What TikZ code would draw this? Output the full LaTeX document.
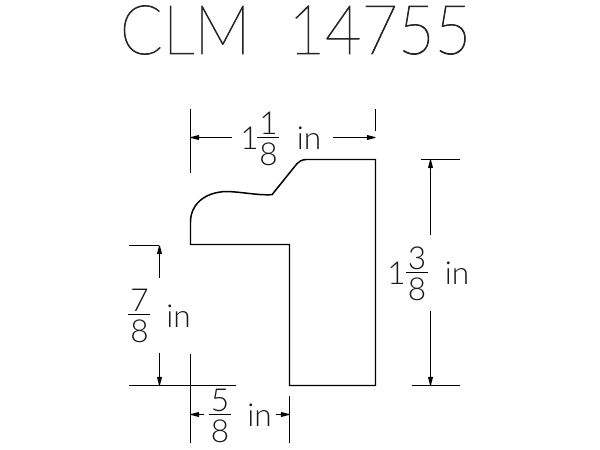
\documentclass[tikz,border=0pt]{standalone}
\usepackage{fontspec}
\usepackage{tikz}
\usetikzlibrary{arrows.meta}
\newfontfamily\titlefont[FakeBold=1.2]{Lato Hairline}
\newfontfamily\dimfont{Lato Light}
\tikzset{>={Latex[width=3pt,length=7pt,round]}}
\tikzset{
  profile/.style={line width=0.85pt, line join=miter},
  dimline/.style={line width=0.7pt},
  dimtext/.style={font=\dimfont\fontsize{18}{18}\selectfont, inner sep=0pt, text=black!90},
}
\newcommand{\dimfrac}[5]{% name, x, y, numerator, denominator
  \node[dimtext, anchor=south] (#1num) at (#2,#3-2.5) {#4};
  \node[dimtext, anchor=north] (#1den) at (#2,#3+5) {#5};
  \draw[dimline] (#2-11,#3) -- (#2+11,#3);
}

\begin{document}
\begin{tikzpicture}[x=0.02cm, y=-0.02cm]
  \useasboundingbox (0,0) rectangle (600,450);

  \node[inner sep=0pt, text=black!85, font=\titlefont\fontsize{39}{39}\selectfont] (TITLE) at (295.5,30) {\scalebox{0.92}[1]{CLM\hspace{0.6em}14755}};

  % section
  \draw[profile] (190.5,244.5) -- (289.5,244.5) -- (289.5,385.5) -- (375.5,385.5) -- (375.5,159.5) -- (306,159.5)
    .. controls (301,160) and (299,161.5) .. (296.7,164) -- (272,194.7)
    .. controls (258,195.5) and (243,192) .. (226.7,191.5)
    .. controls (204,192) and (190.5,205) .. (190.5,222) -- cycle;

  % top
  \node[dimtext] (ONE) at (249.5,138) {1};
  \dimfrac{TOP}{268.5}{137.5}{1}{8}
  \node[dimtext] (TOPIN) at (309,138) {in};
  \draw[dimline] (190.5,109) -- (190.5,173);
  \draw[dimline] (375.5,109) -- (375.5,131);
  \draw[dimline,->] (232,137.5) -- (190.5,137.5);
  \draw[dimline,->] (333,137.5) -- (375.5,137.5);

  % right
  \node[dimtext] (ONER) at (396.5,273) {1};
  \dimfrac{RIGHT}{417}{272.5}{3}{8}
  \node[dimtext] (RIGHTIN) at (457,273) {in};
  \draw[dimline] (421.5,159.5) -- (460,159.5);
  \draw[dimline] (412,385.5) -- (460,385.5);
  \draw[dimline,->] (430.5,235) -- (430.5,159.5);
  \draw[dimline,->] (430.5,310.7) -- (430.5,385.5);

  % left
  \dimfrac{LEFT}{139.5}{314.5}{7}{8}
  \node[dimtext] (LEFTIN) at (178.5,316) {in};
  \draw[dimline] (129,245.5) -- (159.5,245.5);
  \draw[dimline] (129,385.5) -- (236,385.5);
  \draw[dimline,->] (159.5,277.7) -- (159.5,245.5);
  \draw[dimline,->] (159.5,353) -- (159.5,385.5);

  % bottom
  \dimfrac{BOT}{220}{414.5}{5}{8}
  \node[dimtext] (BOTIN) at (259.5,415) {in};
  \draw[dimline] (190.5,354) -- (190.5,443);
  \draw[dimline] (289.5,396) -- (289.5,443);
  \draw[dimline,->] (204,414.5) -- (190.5,414.5);
  \draw[dimline,->] (275.7,414.5) -- (289.5,414.5);
\end{tikzpicture}
\end{document}
